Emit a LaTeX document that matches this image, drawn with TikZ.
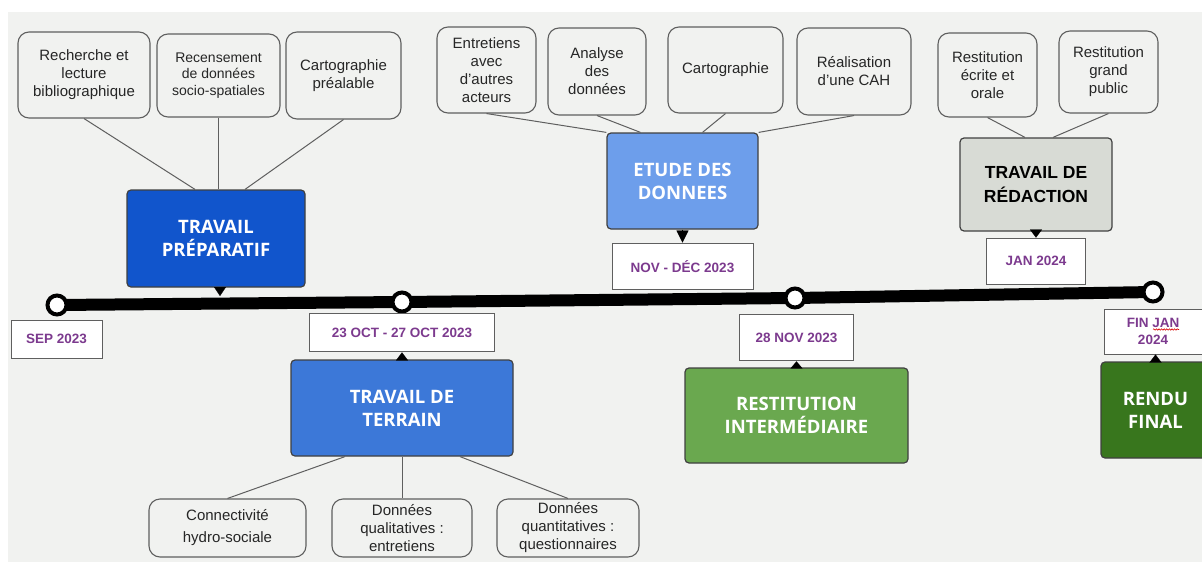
\documentclass[tikz,border=0pt]{standalone}
\usepackage{fontspec}
\setmainfont{Liberation Sans}
\newfontfamily\titlefont{Open Sans}
\usetikzlibrary{positioning,arrows.meta,calc,decorations.pathmorphing}
\definecolor{canvas}{HTML}{F1F2F0}
\definecolor{leafline}{HTML}{5F5F5F}
\definecolor{datepurple}{RGB}{124,58,142}
\definecolor{prepblue}{HTML}{1155CC}
\definecolor{fieldblue}{HTML}{3C78D8}
\definecolor{datablue}{HTML}{6D9EEB}
\definecolor{redgrey}{HTML}{D8DBD5}
\definecolor{midgreen}{HTML}{6AA84F}
\definecolor{darkgreen}{HTML}{38761D}
\tikzset{
  wh/.style 2 args={minimum width=#1pt,minimum height=#2pt},
  leaf/.style={draw=leafline,line width=1.1pt,rounded corners=11pt,fill=canvas,align=center,inner sep=0pt,text=black!85,font=\fontsize{15}{18}\selectfont},
  phase/.style={draw=black!75,line width=1.2pt,rounded corners=4pt,align=center,inner sep=0pt,text=white,font=\titlefont\bfseries\fontsize{18.5}{23}\selectfont},
  datebox/.style={draw=leafline,line width=1pt,fill=white,align=center,inner sep=0pt,text=datepurple,font=\bfseries\fontsize{13.5}{16.5}\selectfont},
  dot/.style={circle,draw=black,line width=4pt,fill=white,minimum size=19pt,inner sep=0pt},
  timeline/.style={line width=12pt},
  branch/.style={draw=leafline,line width=1pt},
  pointer/.style={-{Triangle[length=#1,width=12pt]},line width=0.2pt},
}

\begin{document}
\begin{tikzpicture}[x=1pt,y=-1pt]
  \useasboundingbox (0,0) rectangle (1202,562);
  \fill[white] (0,0) rectangle (1202,562);
  \fill[canvas] (8,12) rectangle (1202,562);

  % timeline
  \coordinate (t1) at (57,305);
  \coordinate (t2) at (402,302);
  \coordinate (t3) at (795,298);
  \coordinate (t4) at (1153,292);
  \draw[timeline] (t1) -- (t2) -- (t3) -- (t4);
  \foreach \t in {t1,t2,t3,t4} \node[dot] (m\t) at (\t) {};

  % phases
  \node[phase,fill=prepblue,wh={178}{97}] (tp) at (216,238.5) {TRAVAIL\\PRÉPARATIF};
  \node[phase,fill=fieldblue,wh={222}{96}] (tt) at (402,408) {TRAVAIL DE\\TERRAIN};
  \node[phase,fill=datablue,wh={151}{96}] (ed) at (682.5,181) {ETUDE DES\\DONNEES};
  \node[phase,fill=midgreen,wh={223}{95}] (ri) at (796.5,415.5) {RESTITUTION\\INTERMÉDIAIRE};
  \node[phase,fill=redgrey,text=black,font=\bfseries\fontsize{17.5}{24}\selectfont,wh={152}{93}] (tr) at (1036,184.5) {TRAVAIL DE\\RÉDACTION};
  \node[phase,fill=darkgreen,wh={109}{96}] (rf) at (1155.5,410) {RENDU\\FINAL};

  % dates
  \node[datebox,wh={91}{38}] (sepd) at (56.5,339) {SEP 2023};
  \node[datebox,wh={185}{38},above=7pt of tt] (ttd) {23 OCT - 27 OCT 2023};
  \node[datebox,wh={141}{46},below=13pt of ed] (edd) {NOV - DÉC 2023};
  \node[datebox,wh={114}{46},above=6pt of ri] (rid) {28 NOV 2023};
  \node[datebox,wh={99}{46},below=6pt of tr] (trd) {JAN 2024};
  \node[datebox,wh={98}{45}] (rfd) at (1153,331.5) {FIN JAN\\2024};
  \draw[red!85!black,line width=0.6pt,decorate,decoration={snake,amplitude=0.7pt,segment length=2.6pt}]
    (1153,329.5) -- (1179,329.5);

  \coordinate (tpm) at (220,296);
  \draw[pointer=9pt] (tpm |- tp.south) -- (tpm);
  \draw[pointer=12pt] (edd.north |- ed.south) -- (edd.north);
  \draw[pointer=8pt] (trd.north |- tr.south) -- (trd.north);
  \draw[pointer=8pt] (ttd.south |- tt.north) -- (ttd.south);
  \draw[pointer=7pt] (rid.south |- ri.north) -- (rid.south);
  \draw[pointer=8pt] (rf.north) -- (rf.north |- rfd.south);

  % tasks
  \node[leaf,wh={132}{86}] (rech) at (84,75) {Recherche et\\lecture\\bibliographique};
  \node[leaf,wh={123}{83},font=\fontsize{14}{16.7}\selectfont] (recens) at (218.5,75.5) {Recensement\\de données\\socio-spatiales};
  \node[leaf,wh={115}{87}] (cartop) at (343.5,75.5) {Cartographie\\préalable};
  \node[leaf,wh={99}{86}] (entr) at (486.5,70) {Entretiens\\avec\\d’autres\\acteurs};
  \node[leaf,wh={98}{87}] (analyse) at (597,71.5) {Analyse\\des\\données};
  \node[leaf,wh={115}{86}] (carto) at (725.5,70) {Cartographie};
  \node[leaf,wh={114}{87}] (realis) at (854,71.5) {Réalisation\\d’une CAH};
  \node[leaf,wh={99}{84}] (restec) at (987.5,75) {Restitution\\écrite et\\orale};
  \node[leaf,wh={99}{82}] (restgp) at (1108.5,72) {Restitution\\grand\\public};
  \node[leaf,wh={157}{58},font=\fontsize{15}{22}\selectfont] (conn) at (227.5,528) {Connectivité\\hydro-sociale};
  \node[leaf,wh={140}{58}] (qual) at (402,528) {Données\\qualitatives~:\\entretiens};
  \node[leaf,wh={142}{58}] (quant) at (568,528) {Données\\quantitatives~:\\questionnaires};

  \draw[branch] (rech.south) -- ($(tp.north)+(-21,0)$);
  \draw[branch] (recens.south) -- (recens.south |- tp.north);
  \draw[branch] (cartop.south) -- ($(tp.north)+(29,0)$);
  \draw[branch] (entr.south) -- (ed.north west);
  \draw[branch] (analyse.south) -- ($(ed.north)+(-42,0)$);
  \draw[branch] (carto.south) -- ($(ed.north)+(20,0)$);
  \draw[branch] (realis.south) -- (ed.north east);
  \draw[branch] (restec.south) -- ($(tr.north)+(-11,0)$);
  \draw[branch] (restgp.south) -- ($(tr.north)+(17,0)$);
  \draw[branch] ($(tt.south)+(-57,0)$) -- (conn.north);
  \draw[branch] (tt.south) -- (qual.north);
  \draw[branch] ($(tt.south)+(58,0)$) -- (quant.north);
\end{tikzpicture}
\end{document}
